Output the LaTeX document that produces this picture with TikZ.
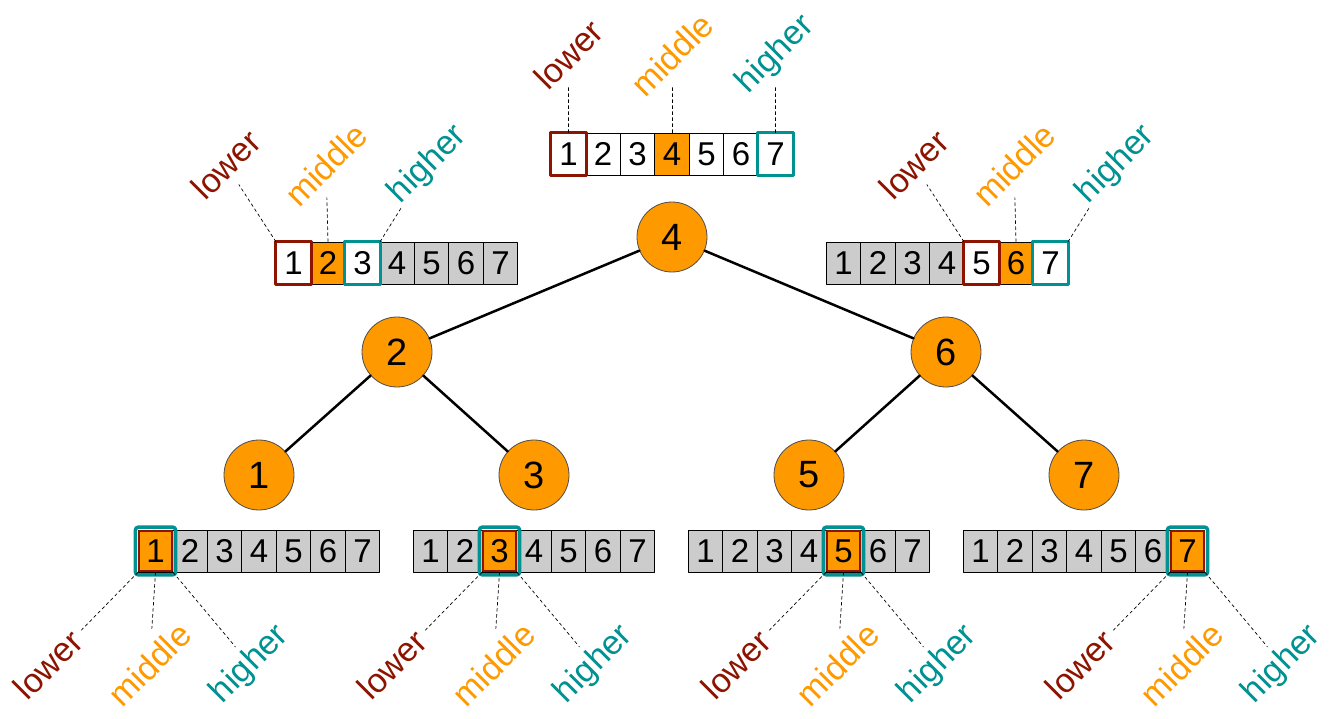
\documentclass[tikz,border=0pt]{standalone}
\usepackage{fontspec}
\setmainfont{Liberation Sans}
\definecolor{lowc}{RGB}{140,20,0}
\definecolor{midc}{RGB}{255,153,0}
\definecolor{higc}{RGB}{0,145,145}
\definecolor{grayc}{RGB}{204,204,204}
\begin{document}
\begin{tikzpicture}[x=1pt, y=-1pt, line join=round, line cap=round,
  cell/.style={draw, line width=0.8pt, minimum width=34.5pt, minimum height=42pt, inner sep=0pt, font=\fontsize{33}{33}\selectfont},
  knot/.style={circle, draw=black!70, line width=0.8pt, fill=midc, minimum size=70pt, inner sep=0pt, font=\fontsize{38}{38}\selectfont},
  tag/.style={rotate=45, inner sep=0pt, font=\fontsize{34}{34}\selectfont},
  guide/.style={line width=0.7pt, dash pattern=on 3pt off 3pt},
  edge/.style={line width=2.5pt}]
 \useasboundingbox (0,0) rectangle (1341,718);
 % tree
 \node[knot] (k4) at (672,237) {4};
 \node[knot] (k2) at (397,352) {2};
 \node[knot] (k6) at (946,352) {6};
 \node[knot] (k1) at (259,475) {1};
 \node[knot] (k3) at (534,475) {3};
 \node[knot] (k5) at (809,475) {5};
 \node[knot] (k7) at (1084,475) {7};
 \draw[edge] (k4)--(k2) (k4)--(k6) (k2)--(k1) (k2)--(k3) (k6)--(k5) (k6)--(k7);
 % arrays
 \foreach \a/\cx/\cy/\lo/\hi in {t/672/154/1/7, l/397/263/1/3, r/947/263/5/7, a/259/551/1/1, b/534/551/3/3, c/809/551/5/5, d/1084/551/7/7}{
   \pgfmathtruncatemacro\m{(\lo+\hi)/2}
   \foreach \i in {1,...,7}{
     \def\fc{grayc}
     \ifnum\i<\lo\else\ifnum\i>\hi\else\def\fc{white}\fi\fi
     \ifnum\i=\m\def\fc{midc}\fi
     \node[cell, fill=\fc] (\a\i) at ({\cx+(\i-4)*34.5},\cy) {\i};
   }
 }
 % top and middle row
 \foreach \a/\lo/\hi in {t/1/7, l/1/3, r/5/7}{
   \draw[lowc, line width=3pt] (\a\lo.south west) rectangle (\a\lo.north east);
   \draw[higc, line width=3pt] (\a\hi.south west) rectangle (\a\hi.north east);
 }
 \node[tag, lowc] (lot) at ([yshift=78pt]t1.north) {lower};
 \node[tag, midc] (midt) at ([yshift=78pt]t4.north) {middle};
 \node[tag, higc] (hit) at ([yshift=78pt]t7.north) {higher};
 \draw[guide, shorten >=33pt] (t1.north)--(lot.center);
 \draw[guide, shorten >=33pt] (t4.north)--(midt.center);
 \draw[guide, shorten >=33pt] (t7.north)--(hit.center);
 \foreach \a/\lo/\m/\hi in {l/1/2/3, r/5/6/7}{
   \node[tag, lowc] (lo\a) at ([xshift=-50pt, yshift=77pt]\a\lo.north west) {lower};
   \node[tag, midc] (mid\a) at ([xshift=-2pt, yshift=77pt]\a\m.north) {middle};
   \node[tag, higc] (hi\a) at ([xshift=48pt, yshift=77pt]\a\hi.north east) {higher};
   \draw[guide, shorten >=24pt] (\a\lo.north west)--(lo\a.center);
   \draw[guide, shorten >=33pt] (\a\m.north)--(mid\a.center);
   \draw[guide, shorten >=50pt] (\a\hi.north east)--(hi\a.center);
 }
 % bottom row
 \foreach \a/\k in {a/1, b/3, c/5, d/7}{
   \draw[higc, line width=3.5pt, rounded corners=3pt] ([shift={(-2.5,2.5)}]\a\k.south west) rectangle ([shift={(2.5,-2.5)}]\a\k.north east);
   \draw[lowc, line width=2pt] ([shift={(1.5,-1.5)}]\a\k.south west) rectangle ([shift={(-1.5,1.5)}]\a\k.north east);
   \node[tag, lowc] (lo\a) at ([xshift=-90pt, yshift=-92pt]\a\k.south west) {lower};
   \node[tag, midc] (mid\a) at ([xshift=-6pt, yshift=-92pt]\a\k.south) {middle};
   \node[tag, higc] (hi\a) at ([xshift=77pt, yshift=-92pt]\a\k.south east) {higher};
   \draw[guide, shorten >=48pt] (\a\k.south west)--(lo\a.center);
   \draw[guide, shorten >=36pt] (\a\k.south)--(mid\a.center);
   \draw[guide, shorten >=23pt] (\a\k.south east)--(hi\a.center);
 }
\end{tikzpicture}
\end{document}
